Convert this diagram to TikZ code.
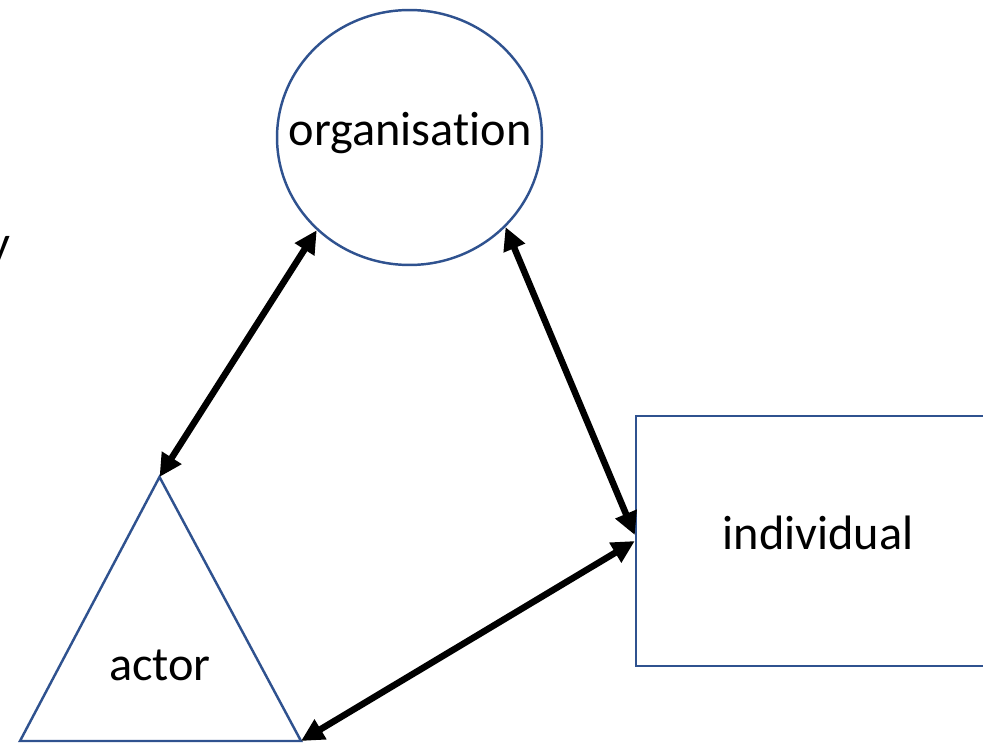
\documentclass[tikz,border=0pt]{standalone}
\usepackage{fontspec}
\setmainfont{Carlito}[RawFeature=-liga]
\usetikzlibrary{shapes.geometric,arrows.meta}
\definecolor{shapeblue}{RGB}{47,82,143}
\begin{document}
\begin{tikzpicture}[x=0.02cm, y=-0.02cm,
    main node/.style={draw=shapeblue, line width=1.4pt, inner sep=0pt},
    label node/.style={inner sep=0pt, font=\fontsize{27.5}{33}\selectfont},
    link/.style={line width=3.7pt, {Triangle[length=13pt,width=12.5pt]}-{Triangle[length=13pt,width=12.5pt]}}]

    \useasboundingbox (0,0) rectangle (983,743);

    \node[main node, ellipse, minimum width=5.3cm, minimum height=5.1cm] at (409.5,137.5) (org) {};
    \node[label node] at (410,133) (orgtext) {organisation};
    \node[main node, rectangle, minimum width=7.28cm, minimum height=5cm] at (818,541) (ind) {};
    \node[label node] at (818,533) (indtext) {individual};

    % the actor triangle
    \coordinate (apex) at (159.5,477);
    \coordinate (left) at (20,741);
    \coordinate (right) at (301,741);
    \draw[draw=shapeblue, line width=1.4pt] (apex) -- (right) -- (left) -- cycle;
    \node[label node] at (160,665) (act) {actor};

    \node[label node, anchor=base east] at (11,259) (cut) {y};

    \path[link] (org.225) edge (apex);
    \path[link] (org.-43) edge ([yshift=3.4pt]ind.west);
    \path[link] (ind.west) edge (right);
\end{tikzpicture}
\end{document}
